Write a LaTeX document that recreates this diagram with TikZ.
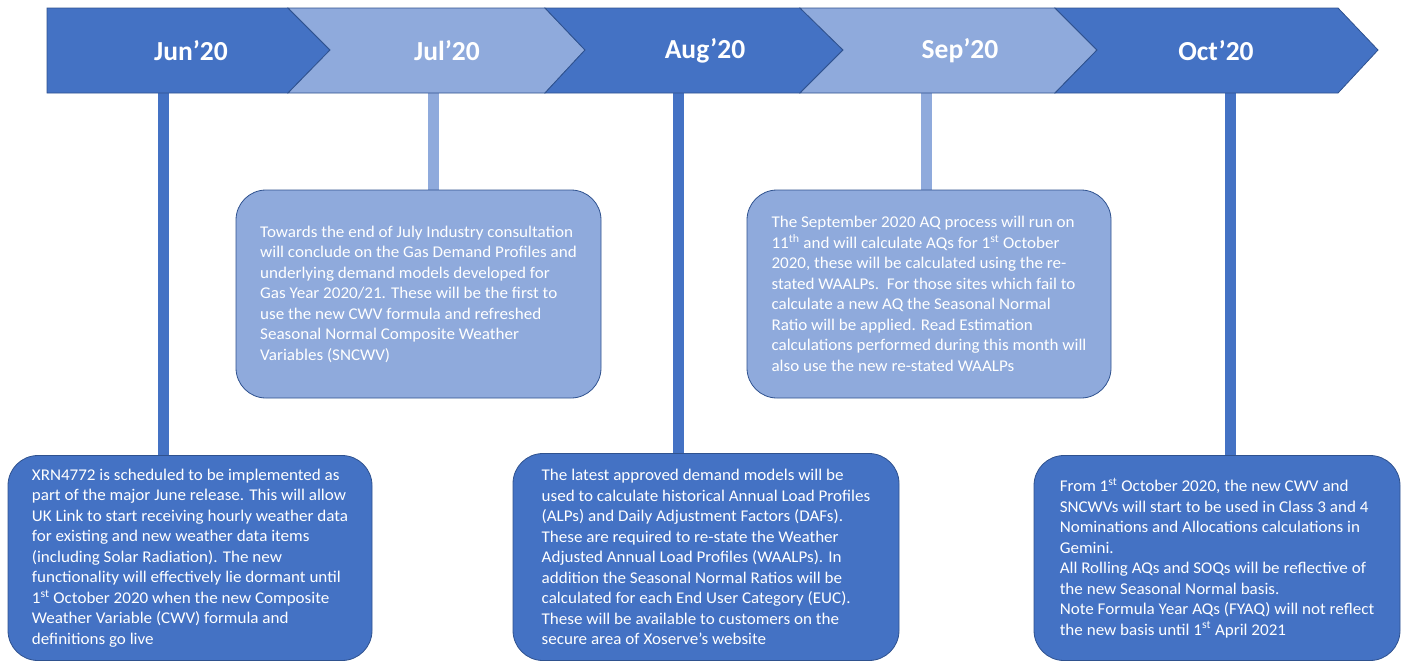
\documentclass[tikz,border=0pt]{standalone}
\usepackage{fontspec}
\setmainfont{Carlito}
\newfontfamily\bodyfont{Carlito}[FakeStretch=1.04]
\usetikzlibrary{backgrounds}
\definecolor{dk}{HTML}{4472C4}
\definecolor{lt}{HTML}{8FAADC}
\definecolor{edgec}{HTML}{2F528F}
\begin{document}
\begin{tikzpicture}[x=1pt,y=-1pt,
  chev/.style={draw=edgec, line width=0.8pt, line join=miter},
  month/.style={font=\fontsize{27.5}{30}\selectfont\bfseries, text=white, inner sep=0pt},
  note/.style={draw=edgec, line width=0.8pt, rounded corners=30pt, align=left, text=white,
    font=\bodyfont\fontsize{16.4}{20.5}\selectfont, inner sep=0pt},
  stem/.style={line width=11pt}]
\useasboundingbox (0,0) rectangle (1402,662);
% banner
\path[chev, fill=dk] (47,8) -- (288,8) -- (330,50) -- (288,93) -- (47,93) -- cycle;
\path[chev, fill=lt] (288,8) -- (545,8) -- (585,50) -- (545,93) -- (288,93) -- (330,50) -- cycle;
\path[chev, fill=dk] (545,8) -- (800,8) -- (843,50) -- (800,93) -- (545,93) -- (585,50) -- cycle;
\path[chev, fill=lt] (800,8) -- (1055,8) -- (1097,50) -- (1055,93) -- (800,93) -- (843,50) -- cycle;
\path[chev, fill=dk] (1055,8) -- (1338,8) -- (1378,50) -- (1338,93) -- (1055,93) -- (1097,50) -- cycle;
\node[month] (m1) at (191,51) {Jun’20};
\node[month] (m2) at (447,51) {Jul’20};
\node[month] (m3) at (705,51) {Aug’20};
\node[month] (m4) at (960,51) {Sep’20};
\node[month] (m5) at (1216,51) {Oct’20};
% boxes
\node[note, fill=dk, minimum width=364pt, minimum height=205pt] (b1) at (190,558)
{XRN4772 is scheduled to be implemented as\\
part of the major June release. This will allow\\
UK Link to start receiving hourly weather data\\
for existing and new weather data items\\
(including Solar Radiation). The new\\
functionality will effectively lie dormant until\\
1\textsuperscript{st} October 2020 when the new Composite\\
Weather Variable (CWV) formula and\\
definitions go live};
\node[note, fill=lt, minimum width=365pt, minimum height=208pt] (b2) at (418.5,294)
{Towards the end of July Industry consultation\\
will conclude on the Gas Demand Profiles and\\
underlying demand models developed for\\
Gas Year 2020/21. These will be the first to\\
use the new CWV formula and refreshed\\
Seasonal Normal Composite Weather\\
Variables (SNCWV)};
\node[note, fill=dk, minimum width=386pt, minimum height=207pt] (b3) at (706,557)
{The latest approved demand models will be\\
used to calculate historical Annual Load Profiles\\
(ALPs) and Daily Adjustment Factors (DAFs).\\
These are required to re-state the Weather\\
Adjusted Annual Load Profiles (WAALPs). In\\
addition the Seasonal Normal Ratios will be\\
calculated for each End User Category (EUC).\\
These will be available to customers on the\\
secure area of Xoserve’s website};
\node[note, fill=lt, minimum width=364pt, minimum height=208pt] (b4) at (929,294)
{The September 2020 AQ process will run on\\
11\textsuperscript{th} and will calculate AQs for 1\textsuperscript{st} October\\
2020, these will be calculated using the re-\\
stated WAALPs.\ \ For those sites which fail to\\
calculate a new AQ the Seasonal Normal\\
Ratio will be applied. Read Estimation\\
calculations performed during this month will\\
also use the new re-stated WAALPs};
\node[note, fill=dk, minimum width=366pt, minimum height=205pt] (b5) at (1217,558)
{From 1\textsuperscript{st} October 2020, the new CWV and\\
SNCWVs will start to be used in Class 3 and 4\\
Nominations and Allocations calculations in\\
Gemini.\\
All Rolling AQs and SOQs will be reflective of\\
the new Seasonal Normal basis.\\
Note Formula Year AQs (FYAQ) will not reflect\\
the new basis until 1\textsuperscript{st} April 2021};
% stems
\coordinate (s1) at (163,93);
\coordinate (s2) at (433,93);
\coordinate (s3) at (678,93);
\coordinate (s4) at (926,93);
\coordinate (s5) at (1230,93);
\begin{scope}[on background layer]
\draw[stem, dk] (s1) -- (s1 |- b1.north);
\draw[stem, lt] (s2) -- (s2 |- b2.north);
\draw[stem, dk] (s3) -- (s3 |- b3.north);
\draw[stem, lt] (s4) -- (s4 |- b4.north);
\draw[stem, dk] (s5) -- (s5 |- b5.north);
\end{scope}
\end{tikzpicture}
\end{document}
